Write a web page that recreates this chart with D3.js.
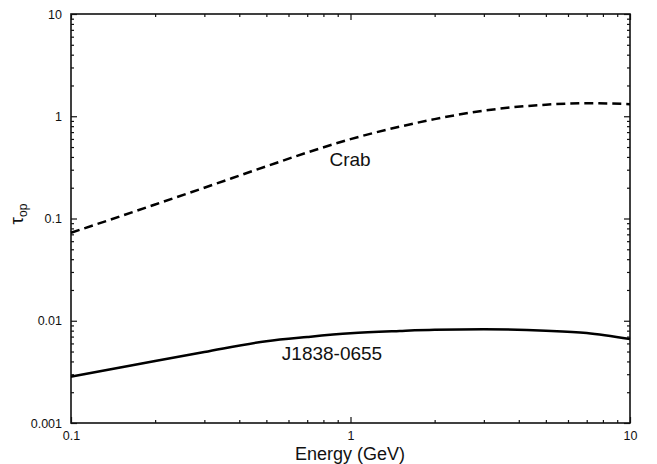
<!DOCTYPE html>
<html>
<head>
<meta charset="utf-8">
<script src="https://cdn.jsdelivr.net/npm/d3@7"></script>
<style>
  body { margin: 0; background: #fff; }
  svg text { font-family: "Liberation Sans", Arial, sans-serif; fill: #111; }
</style>
</head>
<body>
<div class="container"></div>
<script>
// energy grid (GeV)
const energy = [0.1, 0.15, 0.2, 0.3, 0.5, 0.7, 1, 1.5, 2, 3, 5, 7, 10];
// optical depth
const tauCrab = [0.0725, 0.105, 0.137, 0.200, 0.324, 0.442, 0.597, 0.791, 0.937, 1.134, 1.298, 1.343, 1.313];
const tauJ1838 = [0.00284, 0.00349, 0.00404, 0.00494, 0.00631, 0.00693, 0.00753, 0.00793, 0.00815, 0.00824, 0.00800, 0.00759, 0.00662];

const xMajor = [0.1, 1, 10];
const yMajor = [0.001, 0.01, 0.1, 1, 10];
const xLabels = ['0.1', '1', '10'];
const yLabels = ['0.001', '0.01', '0.1', '1', '10'];

const labelCrab = 'Crab';
const labelJ = 'J1838-0655';

const width = 657, height = 464;
const m = { left: 71, right: 630, top: 14, bottom: 423 };

const x = d3.scaleLog().domain([0.1, 10]).range([m.left, m.right]);
const y = d3.scaleLog().domain([0.001, 10]).range([m.bottom, m.top]);

// minor ticks 2..9 in each decade
const minors = dom => {
  const out = [];
  for (let p = Math.log10(dom[0]); p < Math.log10(dom[1]) - 0.01; p++) {
    for (let k = 2; k <= 9; k++) out.push(k * Math.pow(10, Math.round(p)));
  }
  return out;
};
const xMinor = minors(x.domain());
const yMinor = minors(y.domain());

const svg = d3.select('.container')
  .append('svg')
  .attr('width', width)
  .attr('height', height);

const styleAxis = g => {
  g.select('.domain').remove();
  g.selectAll('.tick line').attr('stroke', '#111').attr('stroke-width', 1.2);
};

// bottom
svg.append('g').attr('transform', `translate(0,${m.bottom})`)
  .call(d3.axisBottom(x).tickValues(xMajor).tickSize(-6).tickPadding(8)
    .tickFormat((d, i) => xLabels[i]))
  .call(styleAxis)
  .call(g => g.selectAll('text').attr('font-size', 12.5));
svg.append('g').attr('transform', `translate(0,${m.bottom})`)
  .call(d3.axisBottom(x).tickValues(xMinor).tickSize(-3).tickFormat(''))
  .call(styleAxis);
// top
svg.append('g').attr('transform', `translate(0,${m.top})`)
  .call(d3.axisTop(x).tickValues(xMajor).tickSize(-6).tickFormat(''))
  .call(styleAxis);
svg.append('g').attr('transform', `translate(0,${m.top})`)
  .call(d3.axisTop(x).tickValues(xMinor).tickSize(-3).tickFormat(''))
  .call(styleAxis);
// left
svg.append('g').attr('transform', `translate(${m.left},0)`)
  .call(d3.axisLeft(y).tickValues(yMajor).tickSize(-6).tickPadding(9)
    .tickFormat((d, i) => yLabels[i]))
  .call(styleAxis)
  .call(g => g.selectAll('text').attr('font-size', 12.5));
svg.append('g').attr('transform', `translate(${m.left},0)`)
  .call(d3.axisLeft(y).tickValues(yMinor).tickSize(-3).tickFormat(''))
  .call(styleAxis);
// right
svg.append('g').attr('transform', `translate(${m.right},0)`)
  .call(d3.axisRight(y).tickValues(yMajor).tickSize(-6).tickFormat(''))
  .call(styleAxis);
svg.append('g').attr('transform', `translate(${m.right},0)`)
  .call(d3.axisRight(y).tickValues(yMinor).tickSize(-3).tickFormat(''))
  .call(styleAxis);

// frame
svg.append('rect')
  .attr('x', m.left).attr('y', m.top)
  .attr('width', m.right - m.left).attr('height', m.bottom - m.top)
  .attr('fill', 'none').attr('stroke', '#111').attr('stroke-width', 1.6);

const line = d3.line().curve(d3.curveMonotoneX);

svg.append('path')
  .attr('d', line(energy.map((e, i) => [x(e), y(tauCrab[i])])))
  .attr('fill', 'none').attr('stroke', '#000')
  .attr('stroke-width', 2.5).attr('stroke-dasharray', '9,5');

svg.append('path')
  .attr('d', line(energy.map((e, i) => [x(e), y(tauJ1838[i])])))
  .attr('fill', 'none').attr('stroke', '#000')
  .attr('stroke-width', 2.5);

// curve labels
svg.append('text').attr('x', 350).attr('y', 166)
  .attr('text-anchor', 'middle').attr('font-size', 19).text(labelCrab);
svg.append('text').attr('x', 332).attr('y', 360)
  .attr('text-anchor', 'middle').attr('font-size', 19).text(labelJ);

// axis titles
svg.append('text').attr('x', 350).attr('y', 460)
  .attr('text-anchor', 'middle').attr('font-size', 18).text('Energy (GeV)');

const yt = svg.append('text')
  .attr('transform', 'translate(23,214) rotate(-90)')
  .attr('text-anchor', 'middle').attr('font-size', 19);
yt.append('tspan').text('τ');
yt.append('tspan').attr('font-size', 12).attr('dy', 4).text('op');
</script>
</body>
</html>
